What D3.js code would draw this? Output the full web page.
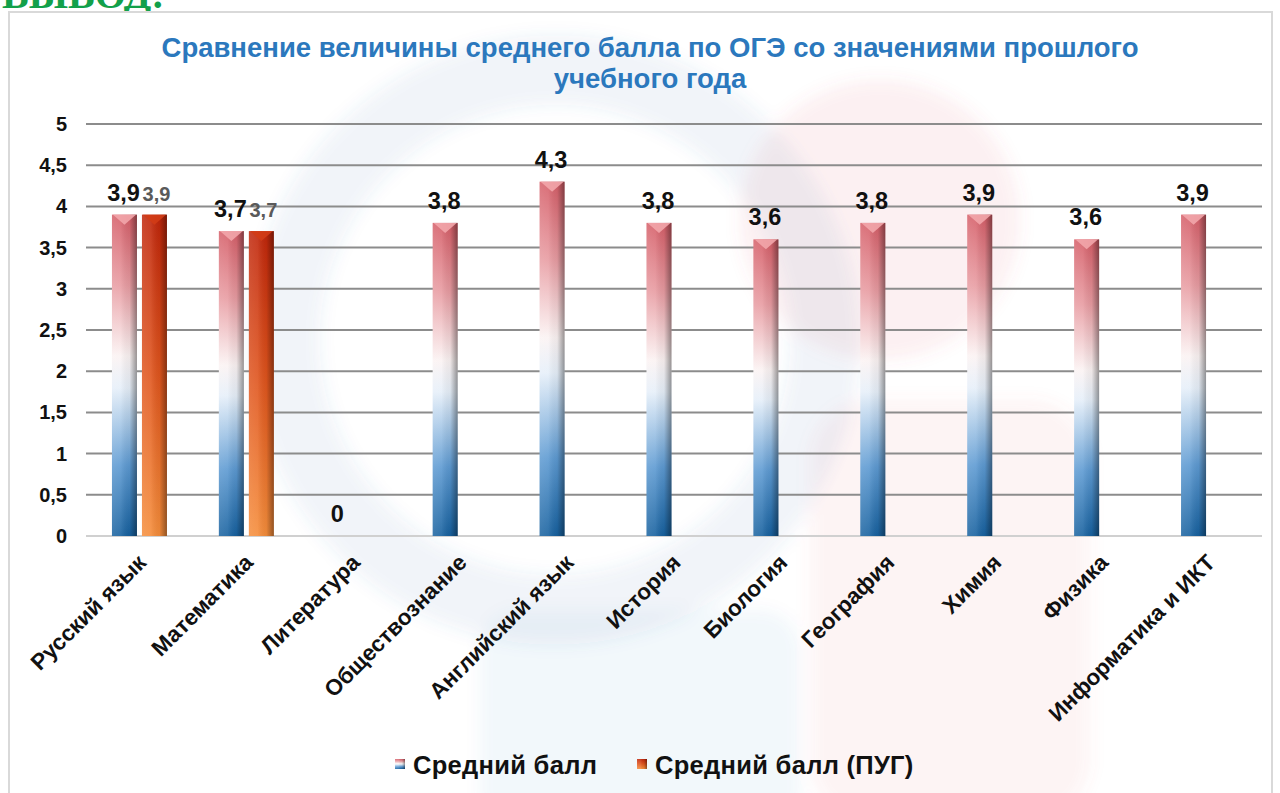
<!DOCTYPE html>
<html>
<head>
<meta charset="utf-8">
<script src="https://cdn.jsdelivr.net/npm/d3@7"></script>
<style>
  body { margin: 0; background: #fff; }
  svg { display: block; font-family: "Liberation Sans", Arial, sans-serif; }
</style>
</head>
<body>
<div id="chart"></div>
<script>
// chart data
let categories = ["Русский язык", "Математика", "Литература", "Обществознание", "Английский язык",
  "История", "Биология", "География", "Химия", "Физика", "Информатика и ИКТ"];
let avgScore = [3.9, 3.7, 0, 3.8, 4.3, 3.8, 3.6, 3.8, 3.9, 3.6, 3.9];
let pugScore = [3.9, 3.7, null, null, null, null, null, null, null, null, null];
let yTicks = [0, 0.5, 1, 1.5, 2, 2.5, 3, 3.5, 4, 4.5, 5];
let seriesNames = ["Средний балл", "Средний балл (ПУГ)"];
let titleLines = ["Сравнение величины среднего балла по ОГЭ со значениями прошлого", "учебного года"];

let width = 1280;
let height = 793;
let plotLeft = 86, plotRight = 1262, plotTop = 124, plotBottom = 536;

let svg = d3.select("#chart").append("svg")
  .attr("width", width)
  .attr("height", height);

let defs = svg.append("defs");

// gradient for the blue series (pink top -> white -> blue bottom)
let gBlue = defs.append("linearGradient").attr("id", "gBlue")
  .attr("x1", 0).attr("y1", 0).attr("x2", 0).attr("y2", 1);
gBlue.append("stop").attr("offset", "0").attr("stop-color", "#d55e68");
gBlue.append("stop").attr("offset", "0.22").attr("stop-color", "#e89ca2");
gBlue.append("stop").attr("offset", "0.44").attr("stop-color", "#fbf3f3");
gBlue.append("stop").attr("offset", "0.54").attr("stop-color", "#e6eff9");
gBlue.append("stop").attr("offset", "0.78").attr("stop-color", "#5d9ad2");
gBlue.append("stop").attr("offset", "1").attr("stop-color", "#17619f");

// gradient for the orange series
let gOrange = defs.append("linearGradient").attr("id", "gOrange")
  .attr("x1", 0).attr("y1", 0).attr("x2", 0).attr("y2", 1);
gOrange.append("stop").attr("offset", "0").attr("stop-color", "#c0260b");
gOrange.append("stop").attr("offset", "0.5").attr("stop-color", "#e0561e");
gOrange.append("stop").attr("offset", "1").attr("stop-color", "#f58d3b");

// side shading so bars look rounded
let gShade = defs.append("linearGradient").attr("id", "gShade")
  .attr("x1", 0).attr("y1", 0).attr("x2", 1).attr("y2", 0);
gShade.append("stop").attr("offset", "0").attr("stop-color", "#fff").attr("stop-opacity", 0.15);
gShade.append("stop").attr("offset", "0.35").attr("stop-color", "#fff").attr("stop-opacity", 0.1);
gShade.append("stop").attr("offset", "0.7").attr("stop-color", "#000").attr("stop-opacity", 0.05);
gShade.append("stop").attr("offset", "1").attr("stop-color", "#000").attr("stop-opacity", 0.4);

// soft edges for the background logo
defs.append("filter").attr("id", "soft")
  .attr("x", "-20%").attr("y", "-20%").attr("width", "140%").attr("height", "140%")
  .append("feGaussianBlur").attr("stdDeviation", 8);

// green heading cut off at the top
svg.append("text")
  .attr("x", 2).attr("y", 8)
  .attr("font-family", "Liberation Serif, serif")
  .attr("font-weight", "bold")
  .attr("font-size", 40)
  .attr("fill", "#12a04a")
  .text("ВЫВОД:");

// chart frame
svg.append("rect")
  .attr("x", 9).attr("y", 12)
  .attr("width", 1263).attr("height", 800)
  .attr("fill", "#fff")
  .attr("stroke", "#d9d9d9")
  .attr("stroke-width", 2);

// faint logo in the background
let wm = svg.append("g").attr("class", "watermark").attr("filter", "url(#soft)");
wm.append("circle").attr("cx", 555).attr("cy", 340).attr("r", 270)
  .attr("fill", "none").attr("stroke", "#2f6fb0").attr("stroke-opacity", 0.075).attr("stroke-width", 70);
wm.append("circle").attr("cx", 880).attr("cy", 220).attr("r", 140)
  .attr("fill", "#e0606a").attr("fill-opacity", 0.085);
wm.append("rect").attr("x", 810).attr("y", 400).attr("width", 280).attr("height", 420).attr("rx", 60)
  .attr("fill", "#e0606a").attr("fill-opacity", 0.065);
wm.append("rect").attr("x", 480).attr("y", 610).attr("width", 320).attr("height", 220).attr("rx", 40)
  .attr("fill", "#2f6fb0").attr("fill-opacity", 0.05);

// title
svg.append("g").selectAll("text")
  .data(titleLines)
  .enter().append("text")
  .attr("x", 650)
  .attr("y", (d, i) => 57 + i * 31)
  .attr("text-anchor", "middle")
  .attr("font-weight", "bold")
  .attr("font-size", 27.5)
  .attr("fill", "#2b78bd")
  .text(d => d);

// scales
let xScale = d3.scaleBand().domain(categories).range([plotLeft, plotRight]);
let xInner = d3.scaleBand().domain([0, 1])
  .range([xScale.bandwidth() / 2 - 27.5, xScale.bandwidth() / 2 + 27.5])
  .paddingInner(1 / 6);
let yScale = d3.scaleLinear().domain([0, 5]).range([plotBottom, plotTop]);

// gridlines
svg.append("g").selectAll("line")
  .data(yTicks)
  .enter().append("line")
  .attr("x1", plotLeft).attr("x2", plotRight)
  .attr("y1", d => yScale(d)).attr("y2", d => yScale(d))
  .attr("stroke", d => d === 0 ? "#d0d0d0" : "#8c8c8c")
  .attr("stroke-width", 2);

// y axis labels
let yAxis = d3.axisLeft(yScale)
  .tickValues(yTicks)
  .tickSize(0)
  .tickPadding(0)
  .tickFormat(d => String(d).replace(".", ","));
let yG = svg.append("g")
  .attr("transform", "translate(67,0)")
  .call(yAxis);
yG.select(".domain").remove();
yG.selectAll("text")
  .attr("font-family", "Liberation Sans, Arial, sans-serif")
  .attr("font-size", 20)
  .attr("font-weight", "bold")
  .attr("fill", "#111");

// x axis labels
let xAxis = d3.axisBottom(xScale).tickSize(0).tickPadding(0);
let xG = svg.append("g")
  .attr("transform", "translate(0," + plotBottom + ")")
  .call(xAxis);
xG.select(".domain").remove();
xG.selectAll("text")
  .attr("font-family", "Liberation Sans, Arial, sans-serif")
  .attr("font-size", 22.5)
  .attr("font-weight", "bold")
  .attr("fill", "#111")
  .attr("text-anchor", "end")
  .attr("dy", 0)
  .attr("transform", "translate(8,28) rotate(-45)");

// bar data
let barData = [];
categories.forEach(function(c, i) {
  barData.push({ cat: c, s: 0, v: avgScore[i] });
  if (pugScore[i] !== null) barData.push({ cat: c, s: 1, v: pugScore[i] });
});

let bars = svg.append("g").selectAll("g")
  .data(barData)
  .enter().append("g")
  .attr("transform", d => "translate(" + (xScale(d.cat) + xInner(d.s)) + ",0)");

let bw = xInner.bandwidth();

bars.filter(d => d.v > 0).append("rect")
  .attr("x", 0)
  .attr("y", d => yScale(d.v))
  .attr("width", bw)
  .attr("height", d => yScale(0) - yScale(d.v))
  .attr("fill", d => d.s === 0 ? "url(#gBlue)" : "url(#gOrange)");

bars.filter(d => d.v > 0).append("rect")
  .attr("x", 0)
  .attr("y", d => yScale(d.v))
  .attr("width", bw)
  .attr("height", d => yScale(0) - yScale(d.v))
  .attr("fill", "url(#gShade)");

// bevel on bar tops
bars.filter(d => d.v > 0).append("path")
  .attr("d", function(d) {
    let y0 = yScale(d.v);
    return "M1," + y0 + "L" + (bw - 1) + "," + y0 + "L" + (bw / 2) + "," + (y0 + 10) + "Z";
  })
  .attr("fill", d => d.s === 0 ? "#f2a6ab" : "#d23c16")
  .attr("fill-opacity", 0.9);

// value labels
bars.append("text")
  .attr("x", d => d.s === 0 ? bw / 2 - 1 : bw / 2 + 2)
  .attr("y", d => yScale(d.v) - 14)
  .attr("text-anchor", "middle")
  .attr("font-size", d => d.s === 0 ? 23.5 : 20)
  .attr("font-weight", "bold")
  .attr("fill", d => d.s === 0 ? "#111" : "#5a5a5a")
  .text(d => String(d.v).replace(".", ","));

// legend
let legend = svg.append("g").attr("transform", "translate(395,774)");
let legendX = [0, 242];
let legendFill = ["url(#gBlue)", "url(#gOrange)"];
seriesNames.forEach(function(name, i) {
  let item = legend.append("g").attr("transform", "translate(" + legendX[i] + ",0)");
  item.append("rect")
    .attr("x", 0).attr("y", -15)
    .attr("width", 10).attr("height", 10)
    .attr("fill", legendFill[i]);
  item.append("rect")
    .attr("x", 0).attr("y", -15)
    .attr("width", 10).attr("height", 10)
    .attr("fill", "url(#gShade)");
  item.append("text")
    .attr("x", 18).attr("y", 0)
    .attr("font-size", 25.5)
    .attr("font-weight", "bold")
    .attr("letter-spacing", 0.3)
    .attr("fill", "#111")
    .text(name);
});
</script>
</body>
</html>
